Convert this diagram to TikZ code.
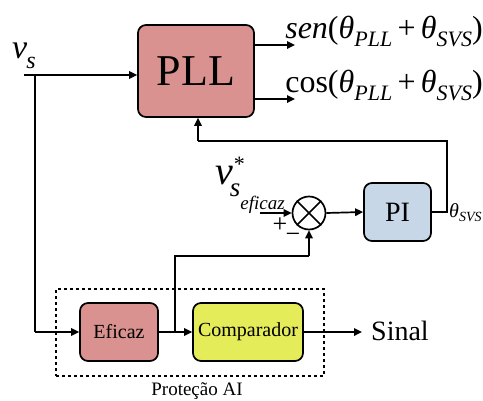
\documentclass[tikz,border=0pt]{standalone}
\usepackage{fontspec}
\setmainfont{Liberation Serif}
\usetikzlibrary{arrows.meta,calc}
\definecolor{pllred}{RGB}{217,146,143}
\definecolor{piblue}{RGB}{200,215,232}
\definecolor{compyel}{RGB}{229,236,90}
\newcommand\fs[1]{\fontsize{#1}{#1}\selectfont}
\newcommand\thsub[1]{\textit{θ}\raisebox{-0.25em}{\fs{22}\textit{#1}}}
\begin{document}
\begin{tikzpicture}[x=1pt,y=-1pt,
  blk/.style={draw,line width=1.7pt,rounded corners=8pt,inner sep=0pt,align=center},
  ln/.style={line width=1.7pt},
  arr/.style={ln,-{Triangle[length=8pt,width=7.5pt]}}]
\useasboundingbox (0,0) rectangle (483,400);
% blocks
\node[blk,fill=pllred,minimum width=116pt,minimum height=92pt,font=\fs{44}] (pll) at (196,71) {PLL};
\node[blk,fill=piblue,minimum width=67pt,minimum height=58pt,font=\fs{28}] (pi) at (397.5,212) {PI};
\node[draw,circle,line width=1.7pt,minimum size=33pt,inner sep=0pt] (sum) at (309,213) {};
\draw[ln] (sum.north west) -- (sum.south east) (sum.north east) -- (sum.south west);
\node[blk,fill=pllred,minimum width=78pt,minimum height=58pt,font=\fs{20}] (ef) at (119,332) {Eficaz};
\node[blk,fill=compyel,minimum width=110pt,minimum height=58pt,font=\fs{20}] (cmp) at (248,332) {Comparador};
\node[draw,dashed,line width=1.5pt,minimum width=268pt,minimum height=87pt,inner sep=0pt] (prot) at (190,332.5) {};
\node[font=\fs{19},inner sep=0pt] (protlbl) at (197,391) {Proteção AI};
% labels
\node[font=\fs{34},inner sep=0pt,anchor=base west] (vs) at (12,58) {\textit{v}\kern-1pt\raisebox{-10pt}{\fs{24}\textit{s}}};
\node[font=\fs{32},inner sep=0pt,anchor=base east] (sen) at (483,38) {\textit{sen}(\thsub{PLL}\,+\,\thsub{SVS})};
\node[font=\fs{32},inner sep=0pt,anchor=base east] (cos) at (483,92) {cos(\thsub{PLL}\,+\,\thsub{SVS})};
\node[font=\fs{40},inner sep=0pt,anchor=base west] (vref) at (215,184) {\textit{v}\kern-3pt\rlap{\raisebox{13pt}{\kern4pt\fs{22}*}}\raisebox{-12pt}{\fs{27}\textit{s}\raisebox{-13pt}{\fs{19}\textit{eficaz}}}};
\node[font=\fs{26},inner sep=0pt] (plus) at (280,225) {+};
\node[font=\fs{26},inner sep=0pt] (minus) at (293,238) {−};
\node[font=\fs{20},inner sep=0pt,anchor=base west] (th) at (449,217) {\textit{θ}\raisebox{-4pt}{\fs{14}\textit{SVS}}};
\node[font=\fs{28},inner sep=0pt,anchor=west] (sinal) at (371,331) {Sinal};
% coordinates
\coordinate (vsa) at (24,75);
\coordinate (vsj) at (35,75);
\coordinate (vsd) at (35,332);
\coordinate (refa) at (260,213);
\coordinate (ej) at (175,332);
\coordinate (eu) at (175,256);
\coordinate (su) at (309,256);
\coordinate (pr) at (447,212);
\coordinate (pu) at (447,141);
\coordinate (pl) at (198,141);
\coordinate (sena) at (295,45);
\coordinate (cosa) at (295,99);
\coordinate (sinala) at (362,332);
% connectors
\draw[arr] (vsa) -- (pll.west |- vsa);
\draw[ln] (vsj) -- (vsd);
\draw[arr] (vsd) -- (ef.west);
\draw[arr] (pll.east |- sena) -- (sena);
\draw[arr] (pll.east |- cosa) -- (cosa);
\draw[arr] (ef.east) -- (cmp.west);
\draw[ln] (ej) -- (eu) -- (su);
\draw[arr] (su) -- (sum.south);
\draw[arr] (refa) -- (sum.west);
\draw[arr] (sum.east) -- (pi.west);
\draw[ln] (pi.east) -- (pr) -- (pu) -- (pl);
\draw[arr] (pl) -- (pl |- pll.south);
\draw[arr] (cmp.east) -- (sinala);
\end{tikzpicture}
\end{document}
